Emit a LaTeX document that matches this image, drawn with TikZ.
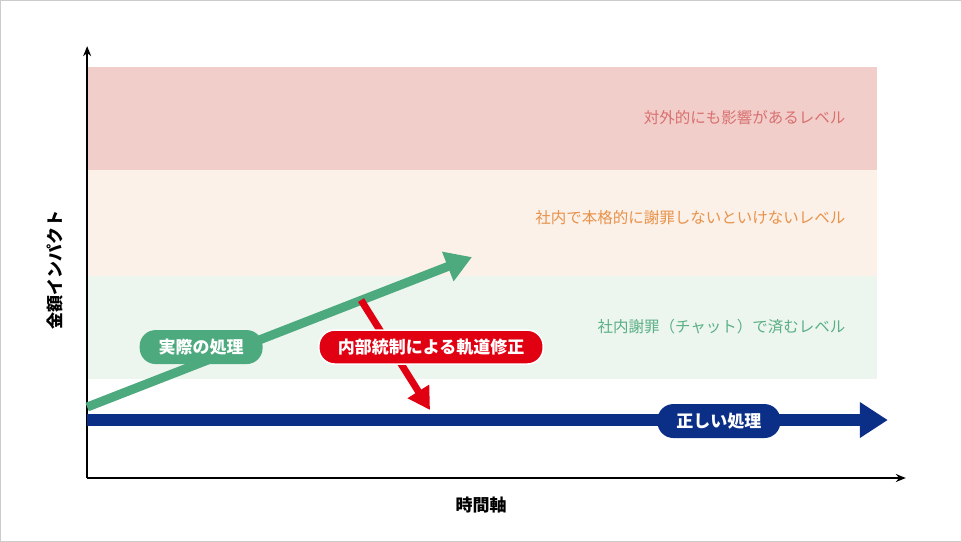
\documentclass[tikz,border=0pt]{standalone}
\usepackage{fontspec}
\setmainfont{Noto Sans CJK JP}
\usetikzlibrary{arrows.meta}
\definecolor{bandred}{HTML}{F2CECA}
\definecolor{bandorange}{HTML}{FBF1E8}
\definecolor{bandgreen}{HTML}{EDF6EE}
\definecolor{txtred}{HTML}{D8706F}
\definecolor{txtorange}{HTML}{E8924A}
\definecolor{txtgreen}{HTML}{5BAF85}
\definecolor{navy}{HTML}{0B2F87}
\definecolor{leaf}{HTML}{4DAA7E}
\definecolor{alarm}{HTML}{E00012}
\begin{document}
\begin{tikzpicture}[x=1pt,y=-1pt,
  level/.style={anchor=east,font=\fontsize{15.5}{15.5}\selectfont},
  pill/.style={rounded corners=16pt,text=white,inner xsep=19pt,minimum height=34pt,
    font=\bfseries\fontsize{17}{17}\selectfont},
  axis/.style={-{Stealth[length=10pt,width=8pt]},line width=1.6pt}]
\draw[gray!40,fill=white] (0,0) rectangle (961,541);
% bands
\fill[bandred] (87,67) rectangle (877,170);
\fill[bandorange] (87,170) rectangle (877,276);
\fill[bandgreen] (87,276) rectangle (877,379);
\node[level,text=txtred] (lv1) at (849,117) {対外的にも影響があるレベル};
\node[level,text=txtorange] (lv2) at (849,218) {社内で本格的に謝罪しないといけないレベル};
\node[level,text=txtgreen] (lv3) at (849,327) {社内謝罪（チャット）で済むレベル};
% axes
\coordinate (o) at (87,478);
\coordinate (ytop) at (87,46);
\coordinate (xend) at (906,478);
\draw[axis] (o) -- (ytop);
\draw[axis] (o) -- (xend);
\node[rotate=90,font=\bfseries\fontsize{17}{17}\selectfont] (ylab) at (55,270) {金額インパクト};
\node[font=\bfseries\fontsize{17}{17}\selectfont] (xlab) at (481,505) {時間軸};
% arrows
\coordinate (b0) at (87,420);
\coordinate (b1) at (888,420);
\draw[navy,line width=12pt,-{Triangle[length=28pt,width=34pt]}] (b0) -- (b1);
\coordinate (g0) at (87,407);
\coordinate (g1) at (472,257);
\draw[leaf,line width=9pt,-{Triangle[length=26pt,width=30pt]}] (g0) -- (g1);
\coordinate (r0) at (361,300);
\coordinate (r1) at (430,410);
\draw[alarm,line width=7pt,-{Triangle[length=22pt,width=24pt]}] (r0) -- (r1);
% labels
\node[pill,fill=navy] (ok) at (719,421) {正しい処理};
\node[pill,fill=leaf] (act) at (201,347) {実際の処理};
\node[pill,fill=alarm,draw=white,line width=1.5pt] (fix) at (431,347) {内部統制による軌道修正};
\end{tikzpicture}
\end{document}
